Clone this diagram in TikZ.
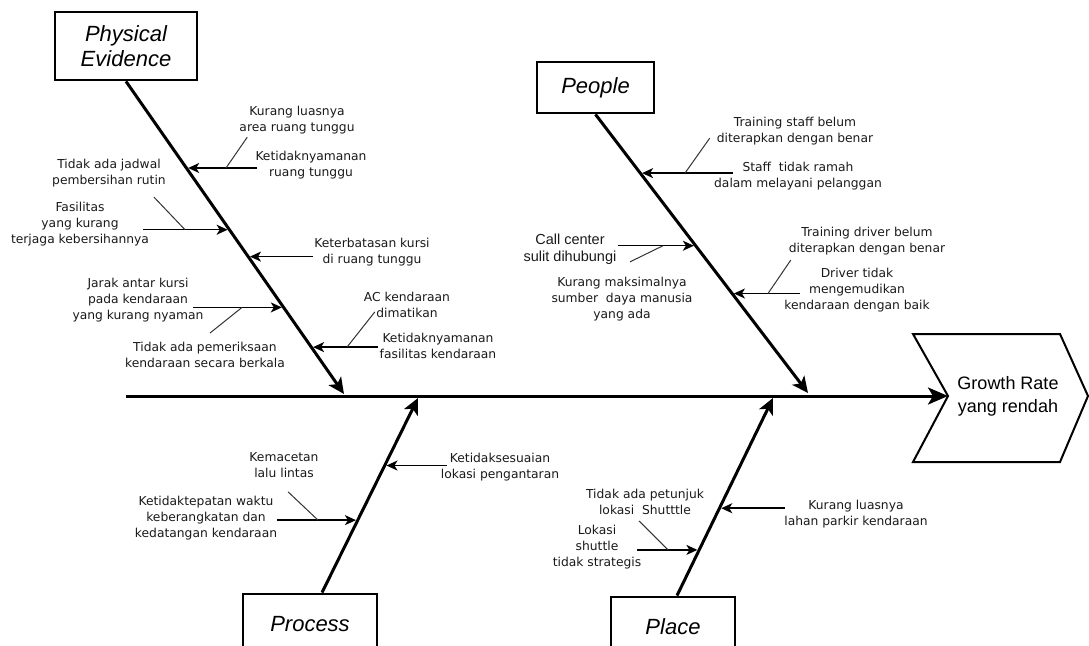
\documentclass[tikz,border=0pt]{standalone}
\usepackage{fontspec}
\setmainfont{Liberation Sans}
\newfontfamily\causefont{DejaVu Sans}
\usetikzlibrary{arrows.meta,calc}

\tikzset{
  catbox/.style={draw,line width=2.8pt,font=\fontsize{22}{25}\selectfont\itshape,align=center,inner sep=0pt},
  bone/.style={line width=3pt,-{Stealth[length=16pt,width=15pt,inset=4pt]}},
  cause/.style={line width=1.5pt,-{Stealth[length=11pt,width=10pt,inset=3pt]},shorten >=1.8pt},
  sub/.style={line width=1pt,black!80},
  lbl/.style={font=\causefont\fontsize{12.3}{16}\selectfont,align=center,inner sep=1pt,text=black!90},
}

\begin{document}
\begin{tikzpicture}[x=1pt,y=-1pt]
\useasboundingbox (0,0) rectangle (1089,645);
\clip (0,0) rectangle (1089,645);

% head of the fish
\coordinate (notch) at (948,396);
\draw[line width=2pt,line join=miter] (913,334) -- (1060,334) -- (1088,396) -- (1060,462) -- (913,462) -- (notch) -- cycle;
\node[font=\fontsize{18}{23}\selectfont,align=center] (effect) at (1008,396) {Growth Rate\\yang rendah};

% spine
\coordinate (tail) at (126,396);
\draw[line width=3pt,-{Stealth[length=20pt,width=17pt,inset=5pt]}] (tail) -- (notch);

% categories
\node[catbox,minimum width=142pt,minimum height=68pt] (pe) at (126,46) {Physical\\Evidence};
\node[catbox,minimum width=117pt,minimum height=51pt] (people) at (595.5,87.5) {People};
\node[catbox,minimum width=134pt,minimum height=60pt] (process) at (310,624) {Process};
\node[catbox,minimum width=124pt,minimum height=60pt] (place) at (673,627) {Place};

% bones
\coordinate (pe0) at (344,394);
\coordinate (pp0) at (808,393);
\coordinate (pr) at ([xshift=12pt]process.north);
\coordinate (pr0) at (418,398);
\coordinate (pl) at ([xshift=4pt]place.north);
\coordinate (pl0) at (773,398);
\draw[bone] (pe.south) -- (pe0);
\draw[bone] (people.south) -- (pp0);
\draw[bone] (pr) -- (pr0);
\draw[bone] (pl) -- (pl0);

% Physical Evidence
\node[lbl] (l1) at (297,120) {Kurang luasnya\\area ruang tunggu};
\node[lbl] (l2) at (311,165) {Ketidaknyamanan\\ruang tunggu};
\node[lbl] (l3) at (109,173) {Tidak ada jadwal\\pembersihan rutin};
\node[lbl] (l4) at (80,224) {Fasilitas\\yang kurang\\terjaga kebersihannya};
\node[lbl] (l5) at (372,252) {Keterbatasan kursi\\di ruang tunggu};
\node[lbl] (l6) at (138,300) {Jarak antar kursi\\pada kendaraan\\yang kurang nyaman};
\node[lbl] (l7) at (205,355) {Tidak ada pemeriksaan\\kendaraan secara berkala};
\node[lbl] (l8) at (407,305) {AC kendaraan\\dimatikan};
\node[lbl] (l9) at (438,346) {Ketidaknyamanan\\fasilitas kendaraan};
\foreach \n/\f/\s in {1/.277/257,2/.4745/143,3/.5605/313,4/.723/193,5/.85/378}{
  \coordinate (pe\n) at ($(pe.south)!\f!(pe0)$);
  \draw[cause] (\s,0 |- pe\n) -- (pe\n);
}
\draw[sub] ([shift={(9,2)}]l1.south west) -- (226,0 |- pe1);
\draw[sub] ([shift={(-13,9)}]l3.south east) -- (185,0 |- pe2);
\draw[sub] ([shift={(5,-8)}]l7.north) -- (242,0 |- pe4);
\draw[sub] ([shift={(12,-7)}]l8.south west) -- (347,0 |- pe5);

% People
\node[lbl] (m1) at (795,131) {Training staff belum\\diterapkan dengan benar};
\node[lbl] (m2) at (798,176) {Staff\ \ tidak ramah\\dalam melayani pelanggan};
\node[lbl,font=\fontsize{14.5}{17}\selectfont] (m3) at (570,249) {Call center\\sulit dihubungi};
\node[lbl] (m4) at (622,299) {Kurang maksimalnya\\sumber\ \ daya manusia\\yang ada};
\node[lbl] (m5) at (867,241) {Training driver belum\\diterapkan dengan benar};
\node[lbl] (m6) at (857,290) {Driver tidak\\mengemudikan\\kendaraan dengan baik};
\foreach \n/\f/\s in {1/.2107/733,2/.4714/618,3/.6429/800}{
  \coordinate (pp\n) at ($(people.south)!\f!(pp0)$);
  \draw[cause] (\s,0 |- pp\n) -- (pp\n);
}
\draw[sub] ([shift={(-6,-8)}]m1.south west) -- (685,0 |- pp1);
\draw[sub] ([shift={(8,-14)}]m4.north) -- (663,0 |- pp2);
\draw[sub] ([shift={(3,4)}]m5.south west) -- (768,0 |- pp3);

% Process
\node[lbl] (n1) at (500,467) {Ketidaksesuaian\\lokasi pengantaran};
\node[lbl] (n2) at (284,465) {Kemacetan\\lalu lintas};
\node[lbl] (n3) at (206,518) {Ketidaktepatan waktu\\keberangkatan dan\\kedatangan kendaraan};
\foreach \n/\f/\s in {1/.653/447,2/.3724/277}{
  \coordinate (pr\n) at ($(pr)!\f!(pr0)$);
  \draw[cause] (\s,0 |- pr\n) -- (pr\n);
}
\draw[sub] ([shift={(4,13)}]n2.south) -- (318,0 |- pr2);

% Place
\node[lbl] (o1) at (856,514) {Kurang luasnya\\lahan parkir kendaraan};
\node[lbl] (o2) at (645,502) {Tidak ada petunjuk\\lokasi\ \ Shutttle};
\node[lbl] (o3) at (597,547) {Lokasi\\shuttle\\tidak strategis};
\foreach \n/\f/\s in {1/.4422/785,2/.2312/637}{
  \coordinate (pl\n) at ($(pl)!\f!(pl0)$);
  \draw[cause] (\s,0 |- pl\n) -- (pl\n);
}
\draw[sub] ([shift={(-6,5)}]o2.south) -- (668,0 |- pl2);
\end{tikzpicture}
\end{document}
